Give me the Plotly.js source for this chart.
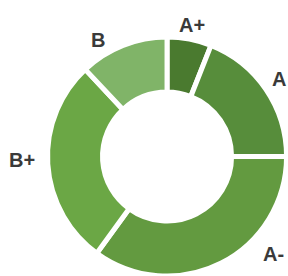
<!DOCTYPE html>
<html><head><meta charset="utf-8">
<script src="https://cdn.plot.ly/plotly-3.0.1.min.js"></script>
<style>html,body{margin:0;padding:0;background:#fff;}#chart{width:288px;height:276px;}</style>
</head><body><div id="chart"></div>
<script>
var categories = ["A+", "A", "A-", "B+", "B"];
var shares = [6, 19, 35, 28, 12];
var sliceColors = ["#4a7a2f", "#578d3b", "#639a40", "#6ba745", "#80b468"];

// label anchor positions (paper coords), one per category
var labelPos = [[0.667, 0.909], [0.970, 0.714], [0.950, 0.080], [0.078, 0.420], [0.340, 0.855]];

var data = [{
  type: "pie",
  labels: categories,
  values: shares,
  hole: 0.54,
  sort: false,
  direction: "clockwise",
  rotation: 0,
  textinfo: "none",
  hoverinfo: "label+value",
  marker: {colors: sliceColors, line: {color: "#ffffff", width: 5}},
  domain: {x: [0.165, 0.995], y: [0.0, 0.866]},
  showlegend: false
}];

var annotations = categories.map(function (c, i) {
  return {
    text: "<b>" + c + "</b>", xref: "paper", yref: "paper",
    x: labelPos[i][0], y: labelPos[i][1], xanchor: "center", yanchor: "middle",
    showarrow: false, font: {family: "Liberation Sans, Arial, sans-serif", size: 20, color: "#3a3a3a"}
  };
});

var layout = {
  width: 288, height: 276,
  margin: {l: 0, r: 0, t: 0, b: 0},
  paper_bgcolor: "#ffffff",
  annotations: annotations
};
Plotly.newPlot("chart", data, layout, {displayModeBar: false, staticPlot: true});
</script></body></html>
